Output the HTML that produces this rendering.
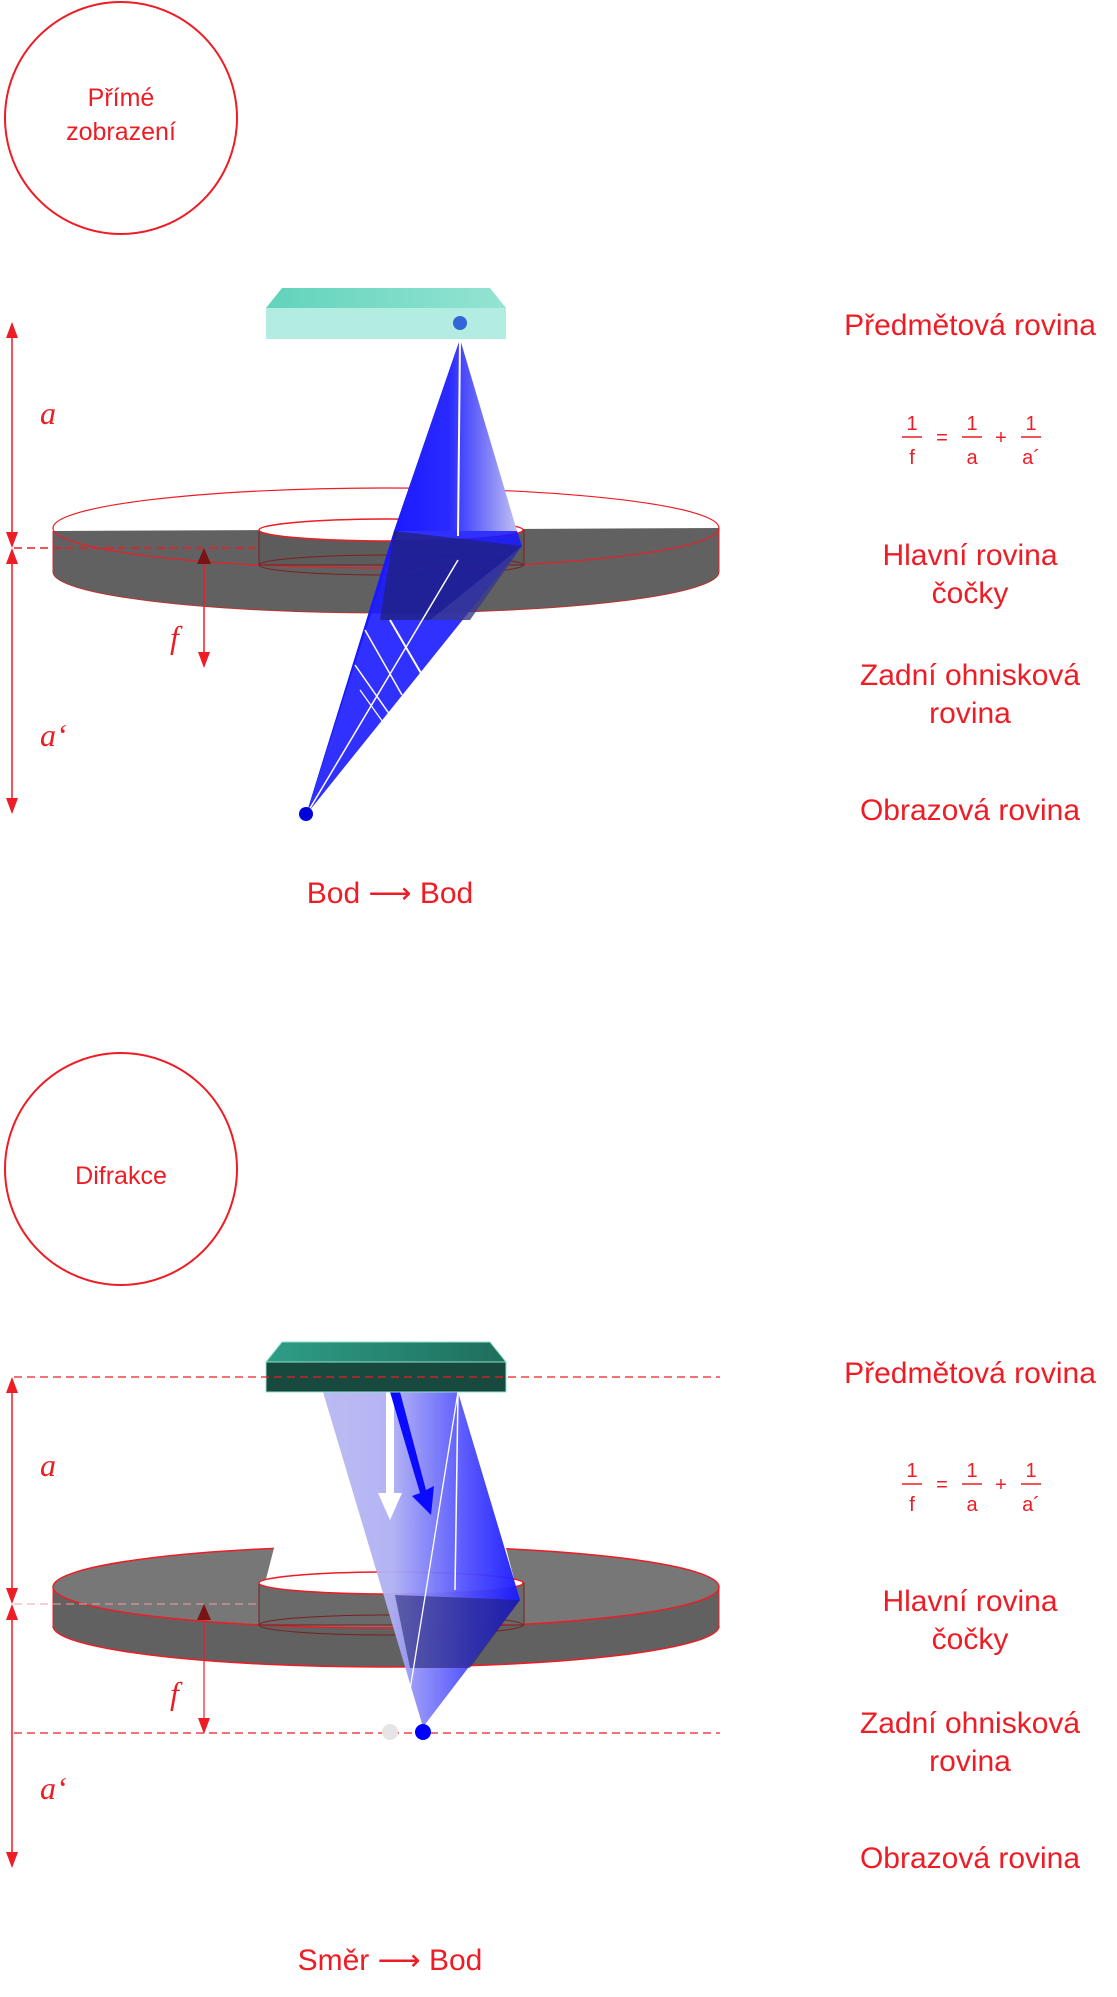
<!DOCTYPE html>
<html><head><meta charset="utf-8"><style>
html,body{margin:0;padding:0;background:#fff;}
svg{display:block;}
text{font-family:"Liberation Sans",sans-serif;fill:#ee1c24;}
.it{font-family:"Liberation Serif",serif;font-style:italic;}
</style></head><body>
<svg width="1117" height="1997" viewBox="0 0 1117 1997" xmlns="http://www.w3.org/2000/svg">
<defs>
<marker id="ar" markerWidth="16" markerHeight="12" refX="14" refY="6" orient="auto-start-reverse" markerUnits="userSpaceOnUse"><path d="M0,0 L16,6 L0,12 z" fill="#ee1c24"/></marker>
<linearGradient id="cone1" x1="0" y1="0" x2="1" y2="0"><stop offset="0" stop-color="#1a1aff"/><stop offset="0.45" stop-color="#2a2aff"/><stop offset="1" stop-color="#c0c0f4"/></linearGradient>
<linearGradient id="cone2" x1="0" y1="0" x2="1" y2="0"><stop offset="0" stop-color="#b8b8f2"/><stop offset="0.35" stop-color="#b0b0f4"/><stop offset="0.75" stop-color="#4a4aff"/><stop offset="1" stop-color="#1818ff"/></linearGradient>
<linearGradient id="slab1" x1="0" y1="0" x2="1" y2="0"><stop offset="0" stop-color="#62d3bb"/><stop offset="1" stop-color="#94e4d2"/></linearGradient>
<linearGradient id="slab2" x1="0" y1="0" x2="1" y2="0"><stop offset="0" stop-color="#2e9e86"/><stop offset="1" stop-color="#1f6e5c"/></linearGradient>
</defs>

<!-- ===== TOP PANEL ===== -->
<circle cx="121" cy="118" r="116" fill="none" stroke="#ee1c24" stroke-width="2"/>
<text x="121" y="106" font-size="25" text-anchor="middle">Přímé</text>
<text x="121" y="140" font-size="25" text-anchor="middle">zobrazení</text>

<polygon points="282,288 490,288 506,308 266,308" fill="url(#slab1)"/>
<rect x="266" y="308" width="240" height="31" fill="#b3ece0"/>
<circle cx="460" cy="323" r="7" fill="#3366d6"/>

<path d="M53,531 L719,528 L719,572 A333,41 0 0 1 53,572 Z" fill="#616161"/>
<ellipse cx="386" cy="528" rx="333" ry="40" fill="none" stroke="#ee1c24" stroke-width="1.2"/>
<path d="M53,572 A333,41 0 0 0 719,572" fill="none" stroke="#c03030" stroke-width="1"/>
<line x1="53" y1="531" x2="53" y2="572" stroke="#c03030"/>
<line x1="719" y1="528" x2="719" y2="572" stroke="#ee1c24"/>
<rect x="259" y="530" width="265" height="35" fill="#5c5c5c" stroke="#7a2020" stroke-width="1"/>
<ellipse cx="391" cy="530" rx="132" ry="11" fill="#fff" stroke="#ee1c24" stroke-width="1.5"/>
<ellipse cx="391" cy="565" rx="132" ry="10" fill="none" stroke="#7a2020" stroke-width="1"/>

<polygon points="460,339 394,531 306,815" fill="#1a1aff"/>
<polygon points="460,339 394,531 517,531" fill="url(#cone1)"/>
<polygon points="394,531 517,531 522,546 306,815" fill="#1a1aff" opacity="0.9"/>
<polygon points="394,531 522,546 430,620 380,620" fill="#20207a" opacity="0.75"/>
<polygon points="522,546 430,620 470,620" fill="#3a3a8a" opacity="0.8"/>
<line x1="460" y1="339" x2="458" y2="536" stroke="#fff" stroke-width="2"/>
<line x1="306" y1="815" x2="458" y2="560" stroke="#fff" stroke-width="1.5"/>
<line x1="390" y1="620" x2="425" y2="680" stroke="#fff" stroke-width="2"/>
<line x1="365" y1="630" x2="402" y2="695" stroke="#fff" stroke-width="1.5"/>
<line x1="355" y1="665" x2="390" y2="715" stroke="#fff" stroke-width="1.5"/>
<line x1="360" y1="690" x2="385" y2="725" stroke="#fff" stroke-width="1.2"/>
<circle cx="306" cy="814" r="7" fill="#0000dd"/>

<line x1="12" y1="324" x2="12" y2="546" stroke="#ee1c24" stroke-width="1.5" marker-end="url(#ar)" marker-start="url(#ar)"/>
<line x1="12" y1="550" x2="12" y2="812" stroke="#ee1c24" stroke-width="1.5" marker-end="url(#ar)" marker-start="url(#ar)"/>
<line x1="14" y1="548" x2="260" y2="548" stroke="#ee1c24" stroke-width="1.5" stroke-dasharray="8,5"/>
<line x1="204" y1="555" x2="204" y2="666" stroke="#ee1c24" stroke-width="1.5" marker-end="url(#ar)"/>
<polygon points="197,564 204,548 211,564" fill="#7a1414"/>
<text class="it" x="40" y="424" font-size="32">a</text>
<text class="it" x="40" y="746" font-size="32">a‘</text>
<text class="it" x="170" y="648" font-size="32">f</text>

<text x="970" y="335" font-size="30" text-anchor="middle">Předmětová rovina</text>
<g font-size="20" text-anchor="middle">
<text x="912" y="430">1</text><line x1="902" y1="437" x2="922" y2="437" stroke="#ee1c24" stroke-width="1.5"/><text x="912" y="464">f</text>
<text x="942" y="444">=</text>
<text x="972" y="430">1</text><line x1="962" y1="437" x2="982" y2="437" stroke="#ee1c24" stroke-width="1.5"/><text x="972" y="464">a</text>
<text x="1001" y="444">+</text>
<text x="1031" y="430">1</text><line x1="1021" y1="437" x2="1041" y2="437" stroke="#ee1c24" stroke-width="1.5"/><text x="1031" y="464">a´</text>
</g>
<text x="970" y="565" font-size="30" text-anchor="middle">Hlavní rovina</text>
<text x="970" y="603" font-size="30" text-anchor="middle">čočky</text>
<text x="970" y="685" font-size="30" text-anchor="middle">Zadní ohnisková</text>
<text x="970" y="723" font-size="30" text-anchor="middle">rovina</text>
<text x="970" y="820" font-size="30" text-anchor="middle">Obrazová rovina</text>
<text x="390" y="903" font-size="30" text-anchor="middle">Bod ⟶ Bod</text>

<!-- ===== BOTTOM PANEL ===== -->
<circle cx="121" cy="1169" r="116" fill="none" stroke="#ee1c24" stroke-width="2"/>
<text x="121" y="1184" font-size="25" text-anchor="middle">Difrakce</text>

<path d="M53,1587 A333,41 0 0 1 719,1587 L719,1626 A333,41 0 0 1 53,1626 Z" fill="#616161"/>
<path d="M53,1587 A333,41 0 0 1 719,1587 A333,41 0 0 1 53,1587 Z" fill="#777"/>
<ellipse cx="386" cy="1587" rx="333" ry="41" fill="none" stroke="#ee1c24" stroke-width="1.5"/>
<path d="M53,1626 A333,41 0 0 0 719,1626" fill="none" stroke="#ee1c24" stroke-width="1.5"/>
<line x1="53" y1="1587" x2="53" y2="1626" stroke="#ee1c24"/>
<line x1="719" y1="1587" x2="719" y2="1626" stroke="#ee1c24"/>
<polygon points="275,1544 505,1544 515,1583 265,1583" fill="#fff"/>
<rect x="259" y="1583" width="265" height="42" fill="#6a6a6a" stroke="#7a2020" stroke-width="1"/>
<ellipse cx="391" cy="1583" rx="132" ry="11" fill="#fff" stroke="#ee1c24" stroke-width="1.5"/>
<ellipse cx="391" cy="1625" rx="132" ry="10" fill="none" stroke="#7a2020" stroke-width="1"/>

<polygon points="323,1392 458,1392 515,1583 520,1600 423,1727" fill="url(#cone2)" opacity="0.95"/>
<polygon points="395,1595 520,1600 470,1668 410,1668" fill="#1e1e70" opacity="0.55"/>
<line x1="458" y1="1392" x2="455" y2="1590" stroke="#fff" stroke-width="1.5"/>
<line x1="458" y1="1392" x2="410" y2="1690" stroke="#fff" stroke-width="1.3"/>
<polygon points="386,1392 394,1392 394,1493 402,1493 390,1520 378,1493 386,1493" fill="#fff"/>
<polygon points="390,1392 400,1392 426,1490 434,1486 431,1515 412,1496 420,1493" fill="#0a0aff"/>

<polygon points="282,1342 490,1342 506,1362 266,1362" fill="url(#slab2)" stroke="#8fe0cc" stroke-width="1"/>
<rect x="266" y="1362" width="240" height="30" fill="#17493f" stroke="#8fe0cc" stroke-width="1"/>

<line x1="14" y1="1377" x2="720" y2="1377" stroke="#ee1c24" stroke-width="1.2" stroke-dasharray="8,5"/>
<line x1="14" y1="1733" x2="720" y2="1733" stroke="#ee1c24" stroke-width="1.2" stroke-dasharray="8,5"/>
<line x1="14" y1="1604" x2="260" y2="1604" stroke="#f0a0a0" stroke-width="1" stroke-dasharray="8,5"/>
<circle cx="390" cy="1732" r="8" fill="#e6e4e4"/>
<circle cx="423" cy="1732" r="8" fill="#0000ff"/>

<line x1="12" y1="1379" x2="12" y2="1602" stroke="#ee1c24" stroke-width="1.5" marker-end="url(#ar)" marker-start="url(#ar)"/>
<line x1="12" y1="1606" x2="12" y2="1866" stroke="#ee1c24" stroke-width="1.5" marker-end="url(#ar)" marker-start="url(#ar)"/>
<line x1="204" y1="1612" x2="204" y2="1732" stroke="#ee1c24" stroke-width="1.2" marker-end="url(#ar)"/>
<polygon points="197,1620 204,1604 211,1620" fill="#7a1414"/>
<text class="it" x="40" y="1476" font-size="32">a</text>
<text class="it" x="40" y="1799" font-size="32">a‘</text>
<text class="it" x="170" y="1704" font-size="32">f</text>

<text x="970" y="1383" font-size="30" text-anchor="middle">Předmětová rovina</text>
<g font-size="20" text-anchor="middle">
<text x="912" y="1477">1</text><line x1="902" y1="1484" x2="922" y2="1484" stroke="#ee1c24" stroke-width="1.5"/><text x="912" y="1511">f</text>
<text x="942" y="1491">=</text>
<text x="972" y="1477">1</text><line x1="962" y1="1484" x2="982" y2="1484" stroke="#ee1c24" stroke-width="1.5"/><text x="972" y="1511">a</text>
<text x="1001" y="1491">+</text>
<text x="1031" y="1477">1</text><line x1="1021" y1="1484" x2="1041" y2="1484" stroke="#ee1c24" stroke-width="1.5"/><text x="1031" y="1511">a´</text>
</g>
<text x="970" y="1611" font-size="30" text-anchor="middle">Hlavní rovina</text>
<text x="970" y="1649" font-size="30" text-anchor="middle">čočky</text>
<text x="970" y="1733" font-size="30" text-anchor="middle">Zadní ohnisková</text>
<text x="970" y="1771" font-size="30" text-anchor="middle">rovina</text>
<text x="970" y="1868" font-size="30" text-anchor="middle">Obrazová rovina</text>
<text x="390" y="1970" font-size="30" text-anchor="middle">Směr ⟶ Bod</text>
</svg>
</body></html>
